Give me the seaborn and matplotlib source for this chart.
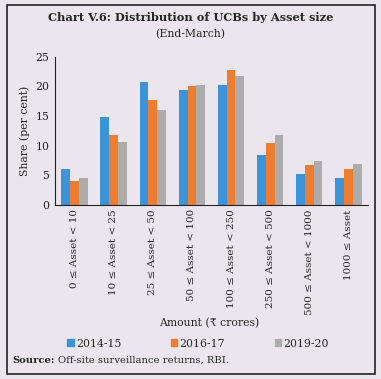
import numpy as np
import pandas as pd
import matplotlib
matplotlib.use('Agg')
import matplotlib.pyplot as plt
from matplotlib.patches import Rectangle
from matplotlib.ticker import FixedLocator
import seaborn as sns

# data
categories = ['0 ≤ Asset < 10', '10 ≤ Asset < 25', '25 ≤ Asset < 50', '50 ≤ Asset < 100',
              '100 ≤ Asset < 250', '250 ≤ Asset < 500', '500 ≤ Asset < 1000', '1000 ≤ Asset']
share_2014_15 = [6.1, 14.8, 20.8, 19.4, 20.2, 8.4, 5.2, 4.5]
share_2016_17 = [4.1, 11.8, 17.7, 20.0, 22.7, 10.4, 6.7, 6.1]
share_2019_20 = [4.6, 10.7, 16.0, 20.3, 21.8, 11.8, 7.4, 7.0]
years = ['2014-15', '2016-17', '2019-20']
colors = ['#3b93d8', '#ee7d31', '#acacac']

df = pd.DataFrame({
    'Asset': categories * 3,
    'Year': sum([[y] * len(categories) for y in years], []),
    'Share': share_2014_15 + share_2016_17 + share_2019_20,
})

bg = '#ebe6ee'
sns.set_style('white')
plt.rcParams['font.family'] = ['DejaVu Serif', 'DejaVu Sans']

fig = plt.figure(figsize=(3.81, 3.79), dpi=100, facecolor=bg)
ax = fig.add_axes([0.144, 0.459, 0.822, 0.391], facecolor=bg)

sns.barplot(data=df, x='Asset', y='Share', hue='Year', palette=colors,
            width=0.67, ax=ax, legend=False, saturation=1, linewidth=0, edgecolor='none')

ax.set_xlim(-0.5, len(categories) - 0.5)
ax.set_ylim(0, 25)
ax.set_yticks([0, 5, 10, 15, 20, 25])
ax.tick_params(axis='y', labelsize=7.8, length=3, width=0.8, pad=1, colors='#222222')
ax.tick_params(axis='x', which='major', length=0, labelsize=7.5, rotation=90, pad=3)
ax.xaxis.set_minor_locator(FixedLocator(np.arange(-0.5, len(categories), 1.0)))
ax.tick_params(axis='x', which='minor', length=3.5, width=0.8, color='#222222')
for s in ['top', 'right']:
    ax.spines[s].set_visible(False)
for s in ['left', 'bottom']:
    ax.spines[s].set_color('#222222')
    ax.spines[s].set_linewidth(0.8)
ax.set_xlabel('')
ax.set_ylabel('Share (per cent)', fontsize=7.8, labelpad=4)

fig.text(0.5, 0.945, 'Chart V.6: Distribution of UCBs by Asset size', ha='center',
         fontsize=8.2, fontweight='bold')
fig.text(0.5, 0.903, '(End-March)', ha='center', fontsize=7.8)
fig.text(0.55, 0.138, 'Amount (₹ crores)', ha='center', fontsize=7.8)

# legend
handles = [Rectangle((0, 0), 1, 1, color=c) for c in colors]
fig.legend(handles, years, loc='center', bbox_to_anchor=(0.52, 0.093), ncol=3,
           frameon=False, fontsize=7.8, handlelength=0.6, handleheight=0.6,
           handletextpad=0.2, columnspacing=4.6)

src = fig.text(0.032, 0.043, 'Source:', fontsize=7.2, fontweight='bold')
fig.canvas.draw()
fig.text(src.get_window_extent().x1 / fig.bbox.width + 0.008, 0.043,
         'Off-site surveillance returns, RBI.', fontsize=7.2)

fig.add_artist(Rectangle((0.018, 0.013), 0.966, 0.973, transform=fig.transFigure,
                         fill=False, edgecolor='#222222', linewidth=1.2))

plt.savefig('out.png', dpi=100, facecolor=bg)
